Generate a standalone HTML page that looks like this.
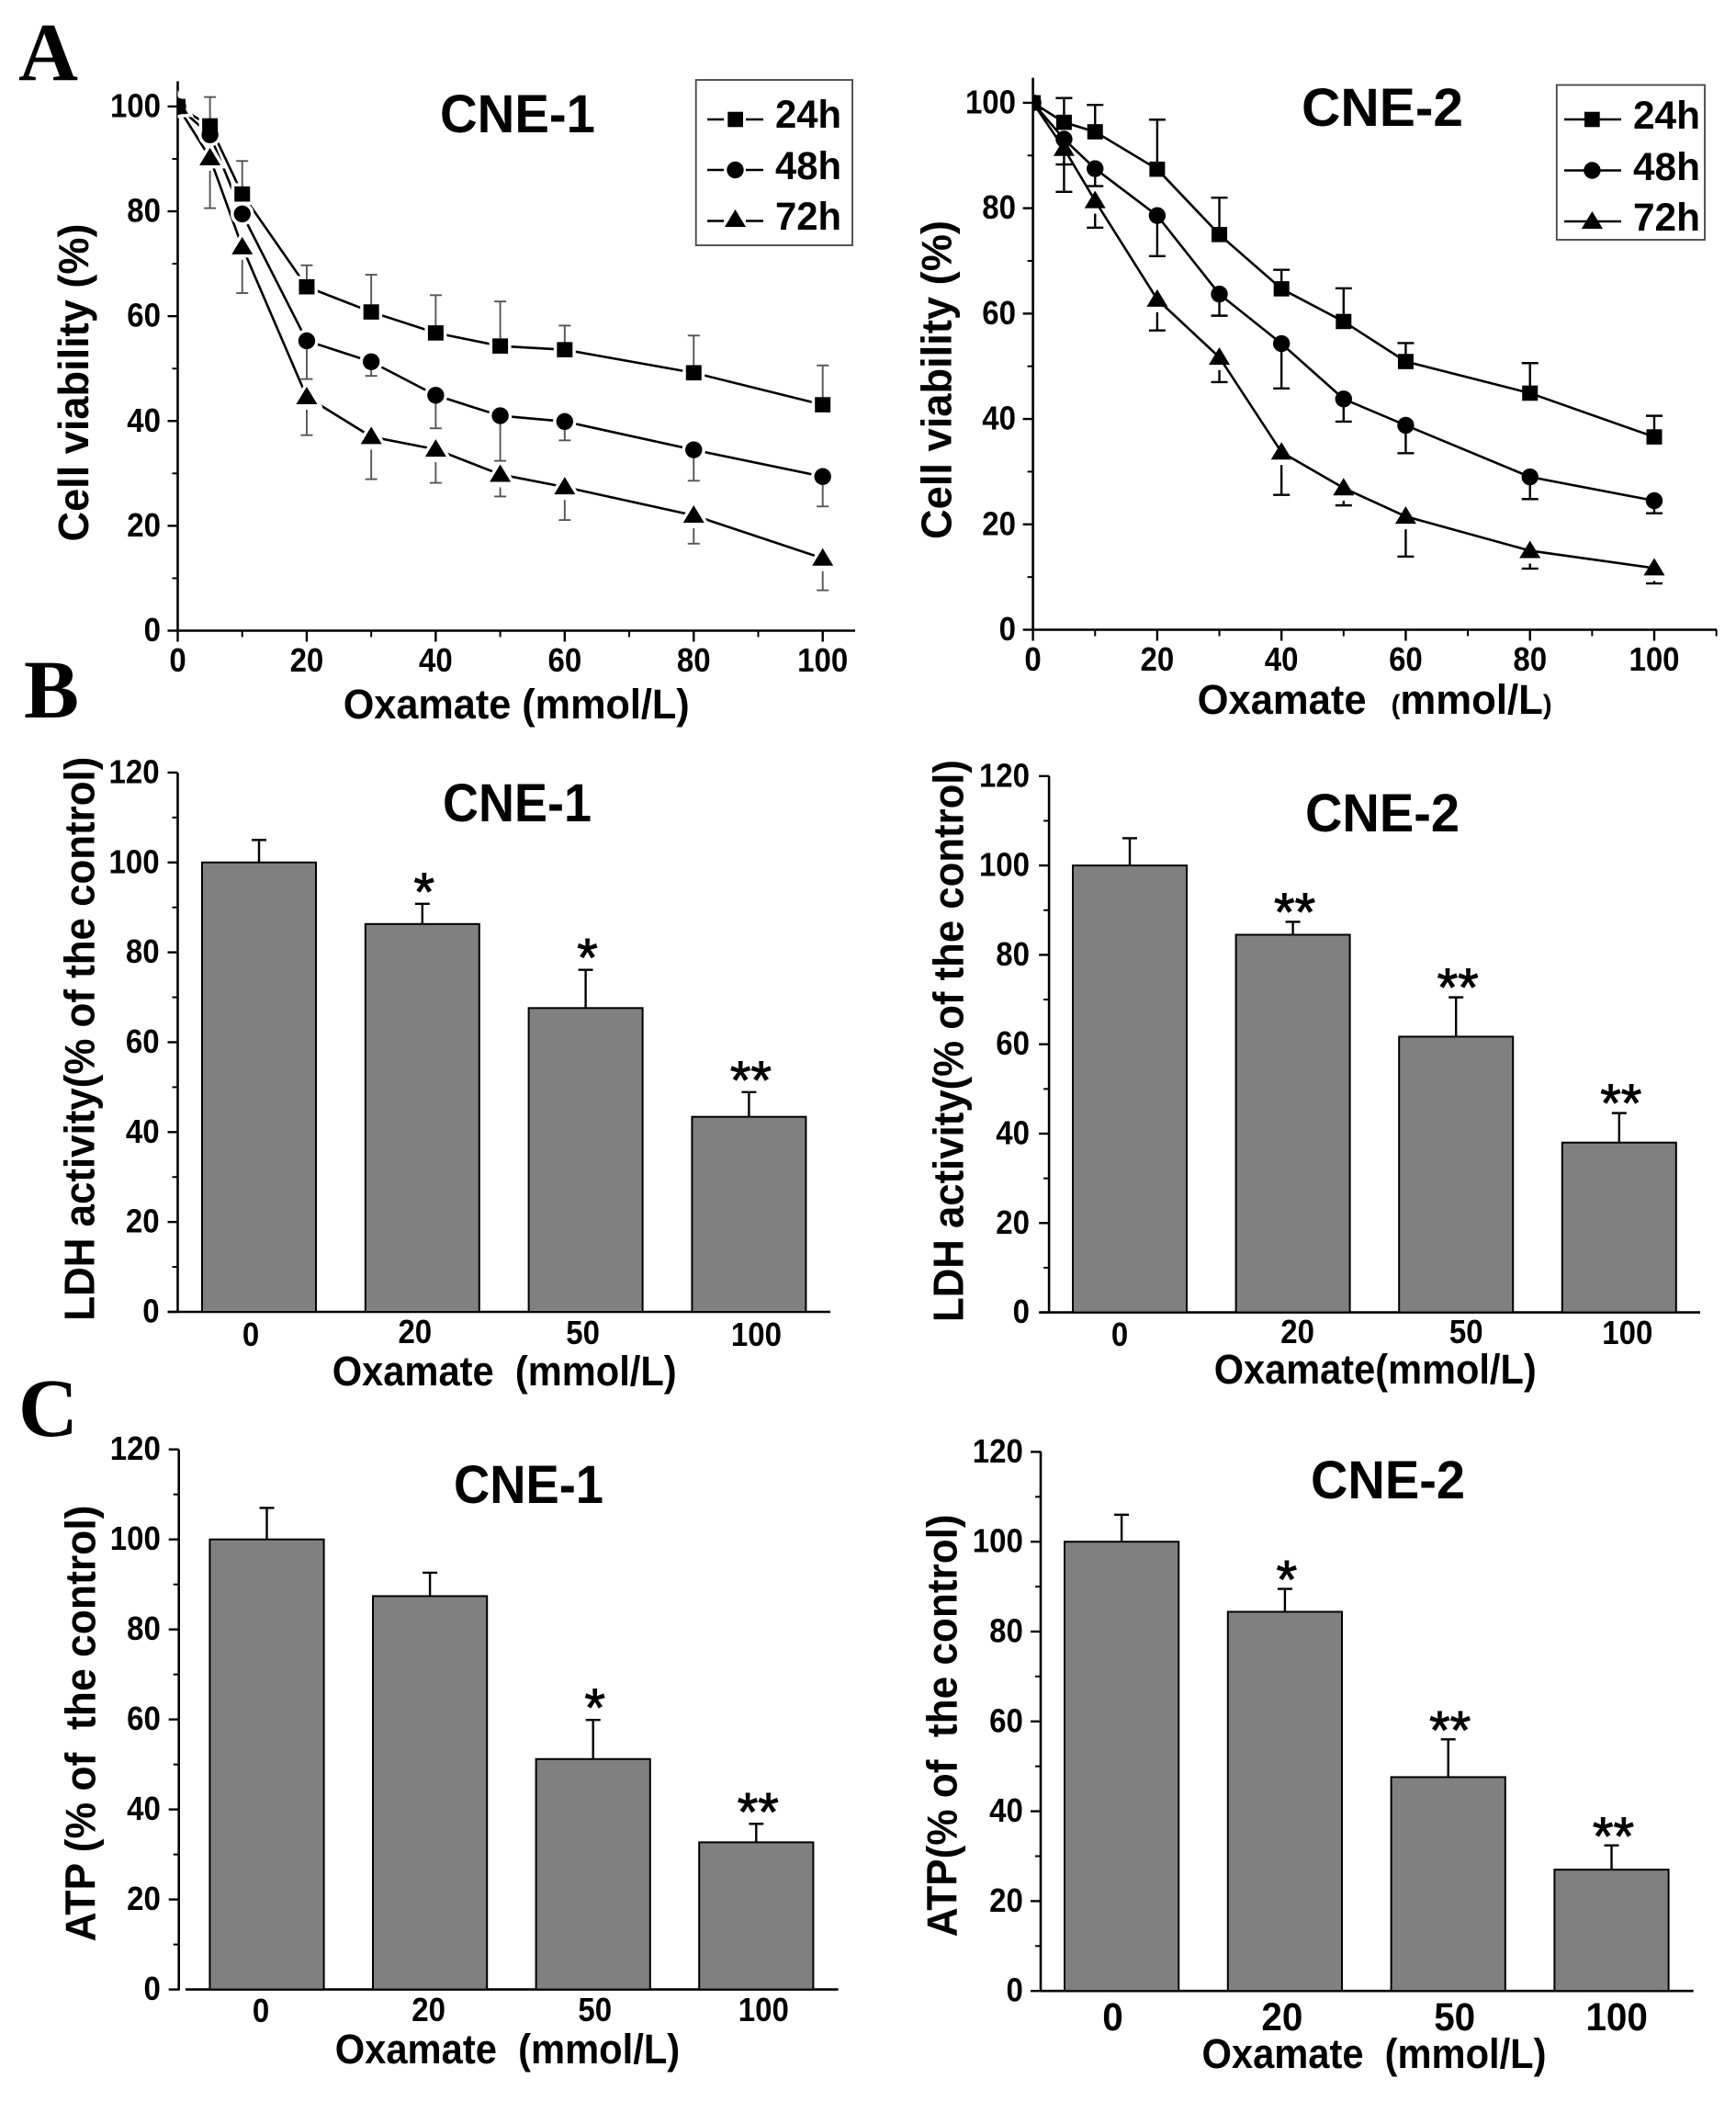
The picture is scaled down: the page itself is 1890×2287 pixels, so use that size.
<!DOCTYPE html>
<html lang="en">
<head>
<meta charset="utf-8">
<title>Oxamate effects on CNE-1 and CNE-2 cells</title>
<style>
html,body{margin:0;padding:0;background:#fff;}
svg{display:block;}
text{font-family:"Liberation Sans",sans-serif;font-weight:bold;fill:#000;white-space:pre;}
.letter{font-family:"Liberation Serif",serif;font-size:90px;}
.title{font-size:58px;}
.legend-text{font-size:43px;}
.axis-x{font-size:45px;}
.axis-y{font-size:46px;}
</style>
</head>
<body>
<svg xmlns="http://www.w3.org/2000/svg" width="1890" height="2287" viewBox="0 0 1890 2287">
<rect x="0" y="0" width="1890" height="2287" fill="#fff"/>

<text class="letter" x="20" y="87">A</text>
<text class="letter" x="26" y="781">B</text>
<text class="letter" x="20" y="1563">C</text>

<g id="chart-a1"></g>
<g id="chart-a2"></g>
<g id="chart-b1"></g>
<g id="chart-b2"></g>
<g id="chart-c1"></g>
<g id="chart-c2"></g>

<text class="title" x="479" y="144" textLength="169" lengthAdjust="spacingAndGlyphs">CNE-1</text>
<text class="title" x="1417" y="137" textLength="176" lengthAdjust="spacingAndGlyphs">CNE-2</text>
<text class="title" x="482" y="894" textLength="162" lengthAdjust="spacingAndGlyphs">CNE-1</text>
<text class="title" x="1421" y="905" textLength="168" lengthAdjust="spacingAndGlyphs">CNE-2</text>
<text class="title" x="494" y="1636" textLength="163" lengthAdjust="spacingAndGlyphs">CNE-1</text>
<text class="title" x="1427" y="1631" textLength="168" lengthAdjust="spacingAndGlyphs">CNE-2</text>

<text class="axis-x" x="373.7" y="782" textLength="377" lengthAdjust="spacingAndGlyphs">Oxamate (mmol/L)</text>
<text class="axis-x" x="1303.6" y="777" textLength="184" lengthAdjust="spacingAndGlyphs">Oxamate</text>
<text class="axis-x" x="1514.6" y="777" textLength="175" lengthAdjust="spacingAndGlyphs"><tspan font-size="30">(</tspan>mmol/L<tspan font-size="30">)</tspan></text>
<text class="axis-x" x="361.7" y="1508" textLength="375" lengthAdjust="spacingAndGlyphs">Oxamate  (mmol/L)</text>
<text class="axis-x" x="1321.7" y="1506" textLength="351" lengthAdjust="spacingAndGlyphs">Oxamate(mmol/L)</text>
<text class="axis-x" x="364.7" y="2246" textLength="375.5" lengthAdjust="spacingAndGlyphs">Oxamate  (mmol/L)</text>
<text class="axis-x" x="1308.5" y="2251" textLength="375" lengthAdjust="spacingAndGlyphs">Oxamate  (mmol/L)</text>

<text class="axis-y" transform="translate(96,589.5) rotate(-90)" textLength="346" lengthAdjust="spacingAndGlyphs">Cell viability (%)</text>
<text class="axis-y" transform="translate(1035.5,587) rotate(-90)" textLength="347" lengthAdjust="spacingAndGlyphs">Cell viability (%)</text>
<text class="axis-y" transform="translate(102.5,1437.7) rotate(-90)" textLength="614" lengthAdjust="spacingAndGlyphs">LDH activity(% of the control)</text>
<text class="axis-y" transform="translate(1048.7,1439) rotate(-90)" textLength="612" lengthAdjust="spacingAndGlyphs">LDH activity(% of the control)</text>
<text class="axis-y" transform="translate(103.7,2113.5) rotate(-90)" textLength="475" lengthAdjust="spacingAndGlyphs">ATP (% of  the control)</text>
<text class="axis-y" transform="translate(1041.4,2108.4) rotate(-90)" textLength="460" lengthAdjust="spacingAndGlyphs">ATP(% of  the control)</text>

<g>
  <rect x="757.7" y="87" width="170.3" height="180" fill="#fff" stroke="#444" stroke-width="1.8"/>
  <line x1="770" x2="788" y1="130" y2="130" stroke="#000" stroke-width="2.5"/>
  <line x1="812" x2="831" y1="130" y2="130" stroke="#000" stroke-width="2.5"/>
  <rect x="792.3" y="121.7" width="16.7" height="16.6" fill="#000"/>
  <text class="legend-text" x="844" y="139" textLength="72" lengthAdjust="spacingAndGlyphs">24h</text>
  <line x1="770" x2="788" y1="185" y2="185" stroke="#000" stroke-width="2.5"/>
  <line x1="812" x2="831" y1="185" y2="185" stroke="#000" stroke-width="2.5"/>
  <circle cx="800.5" cy="185" r="9.2" fill="#000"/>
  <text class="legend-text" x="844" y="195" textLength="72" lengthAdjust="spacingAndGlyphs">48h</text>
  <line x1="770" x2="788" y1="240.5" y2="240.5" stroke="#000" stroke-width="2.5"/>
  <line x1="812" x2="831" y1="240.5" y2="240.5" stroke="#000" stroke-width="2.5"/>
  <polygon points="800.5,228 812,247 789,247" fill="#000"/>
  <text class="legend-text" x="844" y="250" textLength="72" lengthAdjust="spacingAndGlyphs">72h</text>
</g>

<g>
  <rect x="1694.8" y="92.5" width="161.2" height="168.5" fill="#fff" stroke="#444" stroke-width="1.8"/>
  <line x1="1703" x2="1765" y1="130" y2="130" stroke="#000" stroke-width="2.5"/>
  <rect x="1725" y="121.7" width="16.7" height="16.6" fill="#000"/>
  <text class="legend-text" x="1778" y="140" textLength="73" lengthAdjust="spacingAndGlyphs">24h</text>
  <line x1="1703" x2="1765" y1="185.5" y2="185.5" stroke="#000" stroke-width="2.5"/>
  <circle cx="1733.4" cy="185.5" r="9.2" fill="#000"/>
  <text class="legend-text" x="1778" y="196" textLength="73" lengthAdjust="spacingAndGlyphs">48h</text>
  <line x1="1703" x2="1765" y1="241" y2="241" stroke="#000" stroke-width="2.5"/>
  <polygon points="1733.4,230 1745,249 1721.8,249" fill="#000"/>
  <text class="legend-text" x="1778" y="251" textLength="73" lengthAdjust="spacingAndGlyphs">72h</text>
</g>
</svg>

<script>
// ---- data ----
const doses = [0, 5, 10, 20, 30, 40, 50, 60, 80, 100];
const lineXTicks = [0, 20, 40, 60, 80, 100];
const lineXMinor = [10, 30, 50, 70, 90, 110];
const lineYTicks = [0, 20, 40, 60, 80, 100];
const lineYMinor = [10, 30, 50, 70, 90];

const cne1v24 = [100, 96.3, 83.3, 65.6, 60.8, 56.8, 54.3, 53.6, 49.2, 43.1];
const cne1v48 = [100, 94.6, 79.5, 55.3, 51.3, 44.9, 41.0, 39.9, 34.5, 29.4];
const cne1v72 = [100, 90.2, 73.2, 44.6, 37.0, 34.6, 29.8, 27.4, 22.0, 13.8];
const cne1e24 = [null, 101.8, 89.6, 69.7, 67.9, 64.0, 62.8, 58.2, 56.3, 50.6];
const cne1e48 = [null, null, null, 48.0, 48.6, 38.6, 32.4, 36.3, 28.6, 23.7];
const cne1e72 = [null, 80.6, 64.4, 37.3, 28.9, 28.2, 25.6, 21.1, 16.6, 7.7];

const cne2v24 = [100, 96.3, 94.5, 87.4, 75.0, 64.7, 58.5, 50.9, 44.9, 36.6];
const cne2v48 = [100, 93.1, 87.5, 78.6, 63.7, 54.3, 43.8, 38.8, 29.0, 24.5];
const cne2v72 = [100, 91.3, 81.4, 62.7, 51.7, 33.7, 26.9, 21.5, 15.0, 11.7];
const cne2e24 = [null, 100.9, 99.6, 96.8, 82.0, 68.3, 64.8, 54.4, 50.6, 40.6];
const cne2e48 = [null, 88.3, 84.2, 70.9, 59.6, 45.8, 39.5, 33.5, 24.8, 22.1];
const cne2e72 = [null, 83.1, 76.3, 56.8, 47.0, 25.6, 23.6, 13.9, 11.6, 8.8];

const barCategories = ['0', '20', '50', '100'];
const barYTicks = [0, 20, 40, 60, 80, 100, 120];
const barYMinor = [10, 30, 50, 70, 90, 110];

const ldh1Values = [100, 86.3, 67.6, 43.4];
const ldh1Errors = [105, 90.8, 76.1, 48.9];
const ldh1Stars = ['', '*', '*', '**'];
const ldh2Values = [100, 84.5, 61.7, 38.0];
const ldh2Errors = [106.1, 87.4, 70.5, 44.6];
const ldh2Stars = ['', '**', '**', '**'];
const atp1Values = [100, 87.4, 51.2, 32.7];
const atp1Errors = [107, 92.6, 59.9, 36.8];
const atp1Stars = ['', '', '*', '**'];
const atp2Values = [100, 84.4, 47.6, 27.0];
const atp2Errors = [106, 89.5, 56, 32.4];
const atp2Stars = ['', '*', '**', '**'];

// ---- drawing helpers ----
const SVGNS = 'http://www.w3.org/2000/svg';
const TICK_ADVANCE = 18.35;
function make(parent, tag, props, txt) {
  const node = document.createElementNS(SVGNS, tag);
  for (const k in props) node.setAttribute(k, props[k]);
  if (txt !== undefined) node.textContent = txt;
  parent.appendChild(node);
  return node;
}
function scales(c) {
  return {
    y: function (v) { return c.y0 - v * (c.y0 - c.y100) / 100; },
    x: function (v) { return c.x0 + v * (c.x100 - c.x0) / 100; }
  };
}
function tickText(g, x, y, str, anchor, size, advance) {
  return make(g, 'text', {x: x, y: y, 'text-anchor': anchor, 'font-size': size, textLength: str.length * advance, lengthAdjust: 'spacingAndGlyphs'}, str);
}
function drawYAxis(g, c, y, major, minor) {
  const spine = make(g, 'line', {x1: c.axisX, x2: c.axisX, y1: c.yTop, y2: c.y0 + 1, stroke: '#000', 'stroke-width': 2.6});
  
  
  major.forEach(function (v) {
    const t = make(g, 'line', {x1: c.axisX - 11, x2: c.axisX, y1: y(v), y2: y(v), stroke: '#000', 'stroke-width': 2.4});
    
    
    const l = tickText(g, c.labelRight, y(v) + c.yLabelDy, String(v), 'end', c.tickSize, TICK_ADVANCE);
    
    
  });
  minor.forEach(function (v) {
    const t = make(g, 'line', {x1: c.axisX - 6, x2: c.axisX, y1: y(v), y2: y(v), stroke: '#000', 'stroke-width': 2});
    
    
  });
}
function drawMarker(g, shape, px, py, props) {
  if (shape === 'square') {
    return make(g, 'rect', Object.assign({x: px - 8.5, y: py - 8.3, width: 17, height: 16.6}, props));
  }
  if (shape === 'circle') {
    return make(g, 'circle', Object.assign({cx: px, cy: py, r: 9.2}, props));
  }
  return make(g, 'polygon', Object.assign({points: px + ',' + (py - 11) + ' ' + (px + 11.5) + ',' + (py + 8) + ' ' + (px - 11.5) + ',' + (py + 8)}, props));
}
function drawLineChart(id, c, xs, series) {
  const g = document.getElementById(id);
  const s = scales(c);
  const clip = make(g, 'clipPath', {id: id + '-clip'});
  make(clip, 'rect', {x: c.axisX, y: 0, width: 1000, height: 1000});
  drawYAxis(g, c, s.y, lineYTicks, lineYMinor);
  const xLine = make(g, 'line', {x1: c.x0 - 1, x2: c.xEnd, y1: c.y0, y2: c.y0, stroke: '#000', 'stroke-width': 2.6});
  
  
  lineXTicks.forEach(function (v) {
    const t = make(g, 'line', {x1: s.x(v), x2: s.x(v), y1: c.y0, y2: c.y0 + 12, stroke: '#000', 'stroke-width': 2.4});
    
    
    const l = tickText(g, s.x(v), c.xLabelY, String(v), 'middle', c.tickSize, TICK_ADVANCE);
    
    
  });
  lineXMinor.forEach(function (v) {
    if (s.x(v) > c.xEnd + 1) return;
    const t = make(g, 'line', {x1: s.x(v), x2: s.x(v), y1: c.y0, y2: c.y0 + 7, stroke: '#000', 'stroke-width': 2});
    
    
  });
  series.forEach(function (ser) {
    const pts = xs.map(function (x, i) { return s.x(x) + ',' + s.y(ser.values[i]); }).join(' ');
    const pl = make(g, 'polyline', {points: pts, fill: 'none', stroke: '#000', 'stroke-width': 2.6});
    
    
  });
  const markerLayer = make(g, 'g', {'clip-path': 'url(#' + id + '-clip)'});
  if (c.halo > 0) {
    series.forEach(function (ser) {
      xs.forEach(function (x, i) {
        const h = drawMarker(markerLayer, ser.shape, s.x(x), s.y(ser.values[i]), {fill: '#fff', stroke: '#fff', 'stroke-width': c.halo});
        
        
      });
    });
  }
  series.forEach(function (ser) {
    xs.forEach(function (x, i) {
      const e = ser.errors[i];
      if (e === null) return;
      const px = s.x(x);
      const start = s.y(ser.values[i]) + (ser.shape === 'triangle' ? 14 : 0);
      const stem = make(markerLayer, 'line', {x1: px, x2: px, y1: start, y2: s.y(e), stroke: c.errColor, 'stroke-width': c.errWidth});
      
      
      const cap = make(markerLayer, 'line', {x1: px - c.capHalf, x2: px + c.capHalf, y1: s.y(e), y2: s.y(e), stroke: c.errColor, 'stroke-width': c.errWidth});
      
      
    });
  });
  series.slice().reverse().forEach(function (ser) {
    xs.forEach(function (x, i) {
      const m = drawMarker(markerLayer, ser.shape, s.x(x), s.y(ser.values[i]), {fill: '#000'});
      
      
    });
  });
}
function drawBarChart(id, c, values, errors, stars) {
  const g = document.getElementById(id);
  const s = scales(c);
  drawYAxis(g, c, s.y, barYTicks, barYMinor);
  const xLine = make(g, 'line', {x1: c.xLineStart, x2: c.xEnd, y1: c.y0, y2: c.y0, stroke: '#000', 'stroke-width': 2.6});
  
  
  barCategories.forEach(function (cat, i) {
    const left = c.barLeft + i * c.barStep;
    const mid = left + c.barWidth / 2;
    const top = s.y(values[i]);
    const errTop = s.y(errors[i]);
    const stem = make(g, 'line', {x1: mid, x2: mid, y1: top, y2: errTop, stroke: '#000', 'stroke-width': 2.4});
    
    
    const cap = make(g, 'line', {x1: mid - 8, x2: mid + 8, y1: errTop, y2: errTop, stroke: '#000', 'stroke-width': 2.4});
    
    
    const bar = make(g, 'rect', {x: left, y: top, width: c.barWidth, height: c.y0 - top, fill: '#808080', stroke: '#000', 'stroke-width': 2});
    
    
    const lab = tickText(g, mid + c.catNudgeX[i], c.catY + c.catNudgeY[i], cat, 'middle', c.catSize, c.catAdvance);
    
    
    if (stars[i]) {
      const st = make(g, 'text', {x: mid + 2, y: errTop - c.starGap + 26, 'text-anchor': 'middle', 'font-size': 58, stroke: '#000', 'stroke-width': 1, style: 'font-weight:normal'}, stars[i]);
      
      
    }
  });
}

// ---- charts ----
const lineA1 = {x0: 193.5, x100: 895.7, y0: 686.5, y100: 115.9, axisX: 193.5, yTop: 88.5, xEnd: 931, labelRight: 175, xLabelY: 731, tickSize: 36, yLabelDy: 11.5, errColor: '#555', errWidth: 1.9, capHalf: 6.5, halo: 7};
const lineA2 = {x0: 1124.6, x100: 1801, y0: 685.5, y100: 111.9, axisX: 1124.6, yTop: 84.6, xEnd: 1869, labelRight: 1106, xLabelY: 730, tickSize: 36, yLabelDy: 11.5, errColor: '#000', errWidth: 2.4, capHalf: 9, halo: 0};
drawLineChart('chart-a1', lineA1, doses, [
  {name: '24h', shape: 'square', values: cne1v24, errors: cne1e24},
  {name: '48h', shape: 'circle', values: cne1v48, errors: cne1e48},
  {name: '72h', shape: 'triangle', values: cne1v72, errors: cne1e72}
]);
drawLineChart('chart-a2', lineA2, doses, [
  {name: '24h', shape: 'square', values: cne2v24, errors: cne2e24},
  {name: '48h', shape: 'circle', values: cne2v48, errors: cne2e48},
  {name: '72h', shape: 'triangle', values: cne2v72, errors: cne2e72}
]);

drawBarChart('chart-b1', {x0: 0, x100: 100, y0: 1428, y100: 938.8, axisX: 193.5, yTop: 841.2, xLineStart: 182.6, xEnd: 904, labelRight: 173.6, tickSize: 36, yLabelDy: 11.5, barLeft: 220, barWidth: 124, barStep: 177.8, catY: 1465, catNudgeX: [-9, -8, -3, 8], catNudgeY: [0, -3, -2, 0], catSize: 36, catAdvance: 18.35, starGap: 19}, ldh1Values, ldh1Errors, ldh1Stars);
drawBarChart('chart-b2', {x0: 0, x100: 100, y0: 1428.6, y100: 942.1, axisX: 1142.1, yTop: 844.6, xLineStart: 1131.9, xEnd: 1851, labelRight: 1121, tickSize: 36, yLabelDy: 11.5, barLeft: 1168, barWidth: 124, barStep: 177.6, catY: 1463, catNudgeX: [-11, 5, 11, 9], catNudgeY: [2, -1, -1, 0], catSize: 36, catAdvance: 18.35, starGap: 16.5}, ldh2Values, ldh2Errors, ldh2Stars);
drawBarChart('chart-c1', {x0: 0, x100: 100, y0: 2165.6, y100: 1675.7, axisX: 194.7, yTop: 1577.8, xLineStart: 201.9, xEnd: 912.6, labelRight: 174.8, tickSize: 36, yLabelDy: 11.5, barLeft: 228.4, barWidth: 124.2, barStep: 177.6, catY: 2200, catNudgeX: [-6.5, -1.5, 2, 8], catNudgeY: [1, 0, 0, 0], catSize: 36, catAdvance: 18.35, starGap: 19}, atp1Values, atp1Errors, atp1Stars);
drawBarChart('chart-c2', {x0: 0, x100: 100, y0: 2167.2, y100: 1678.2, axisX: 1133, yTop: 1579.8, xLineStart: 1133, xEnd: 1843.7, labelRight: 1113.8, tickSize: 36, yLabelDy: 11.5, barLeft: 1159, barWidth: 124.2, barStep: 177.8, catY: 2210, catNudgeX: [-9.6, -3, 7, 5.7], catNudgeY: [0, 0, 0, 0], catSize: 43, catAdvance: 22.5, starGap: 16}, atp2Values, atp2Errors, atp2Stars);
</script>
</body>
</html>
